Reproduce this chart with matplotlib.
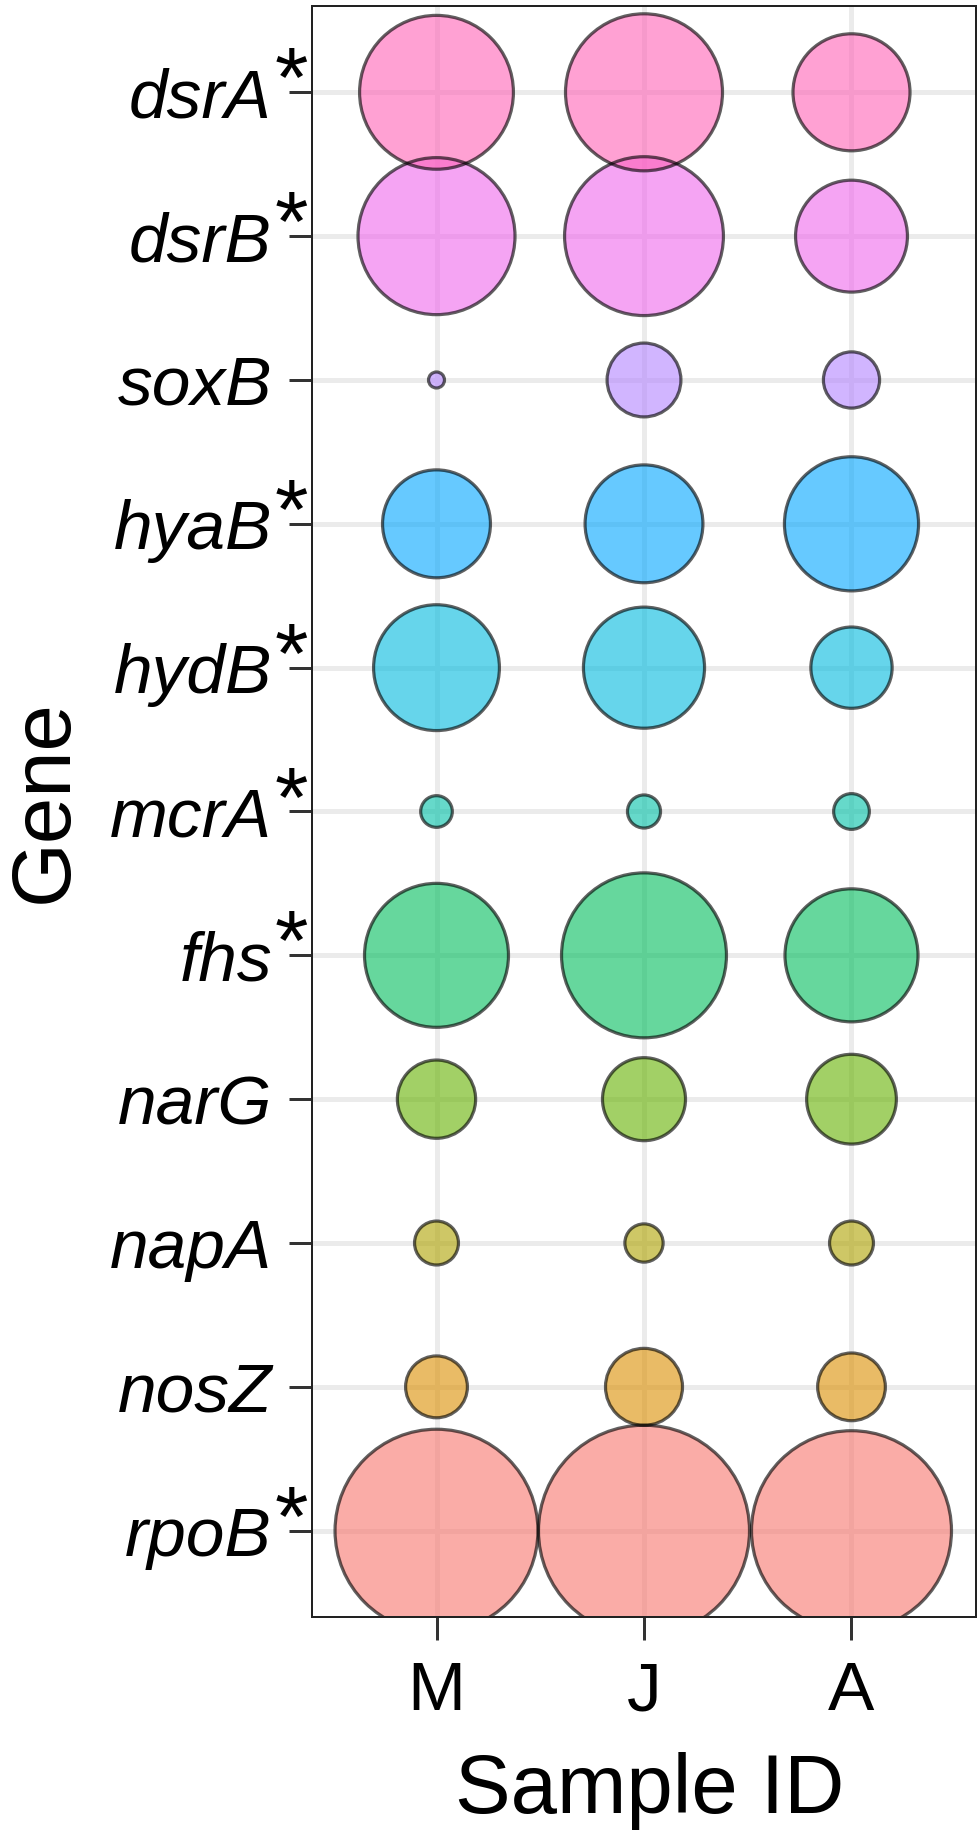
import matplotlib
matplotlib.use("Agg")
import matplotlib.pyplot as plt
import numpy as np

plt.rcParams['font.family'] = ['Liberation Sans', 'DejaVu Sans']

# ---- data ----
genes = ["rpoB", "nosZ", "napA", "narG", "fhs", "mcrA", "hydB", "hyaB", "soxB", "dsrB", "dsrA"]
starred = ["rpoB", "fhs", "mcrA", "hydB", "hyaB", "dsrB", "dsrA"]
samples = ["M", "J", "A"]
# relative abundance (area-proportional bubble size)
abund_M = [424, 42, 22, 66, 216, 12, 166, 123, 3.6, 256, 246]
abund_J = [458, 64, 17, 74, 282, 13, 154, 146, 59, 262, 256]
abund_A = [412, 50, 22, 86, 185, 15, 71, 188, 35, 132, 144]
gene_colors = ["#F8766D", "#DB8E00", "#AEA200", "#64B200", "#00BD5C", "#00C1A7",
               "#00BADE", "#00A6FF", "#B385FF", "#EF67EB", "#FF63B6"]

DPI = 100
fig = plt.figure(figsize=(9.79, 18.35), dpi=DPI)
ax = fig.add_axes([312/979, 1 - 1617/1835, 664/979, 1611/1835])

px = 72.0 / DPI
def size_pt2(v):
    d_px = np.sqrt(np.asarray(v, float)) * 10.0 - 3.0
    return (np.clip(d_px, 1, None) * px) ** 2

ypos = np.arange(1, len(genes) + 1)
for j, vals in enumerate([abund_M, abund_J, abund_A]):
    ax.scatter(np.full(len(genes), j + 1), ypos, s=size_pt2(vals),
               c=gene_colors, alpha=0.6, edgecolors='none', zorder=3)
    ax.scatter(np.full(len(genes), j + 1), ypos, s=size_pt2(vals),
               facecolors='none', edgecolors=(0, 0, 0, 0.62), linewidths=3.2 * px, zorder=4)

ax.set_xlim(0.4, 3.6)
ax.set_ylim(0.4, len(genes) + 0.6)
ax.set_xticks([1, 2, 3])
ax.set_xticklabels(samples, fontsize=50)
ax.set_yticks(ypos)
ax.set_yticklabels(genes, fontsize=50, fontstyle='italic')

ax.grid(True, color='#EBEBEB', linewidth=5 * px, zorder=0)
ax.set_axisbelow(True)
for sp in ax.spines.values():
    sp.set_color('#222222')
    sp.set_linewidth(2 * px)
    sp.set_zorder(6)

ax.tick_params(axis='both', length=23 * px, width=3 * px, color='#333333', labelcolor='black')
ax.tick_params(axis='y', pad=17 * px)
ax.tick_params(axis='x', pad=20 * px)

# significance asterisks (superscript)
for g in starred:
    y = genes.index(g) + 1
    ax.annotate("*", xy=(0, y), xycoords=('axes fraction', 'data'),
                xytext=(-37 * px, 47 * px), textcoords='offset points',
                ha='left', va='top', fontsize=62, color='black', annotation_clip=False)

ax.set_xlabel("Sample ID", fontsize=60)
ax.set_ylabel("Gene", fontsize=60)
ax.xaxis.set_label_coords(0.509, -0.1217)
ax.xaxis.label.set_verticalalignment('baseline')
ax.yaxis.set_label_coords(-0.369, 0.5065)
ax.yaxis.label.set_verticalalignment('baseline')

fig.savefig("out.png", dpi=DPI)
